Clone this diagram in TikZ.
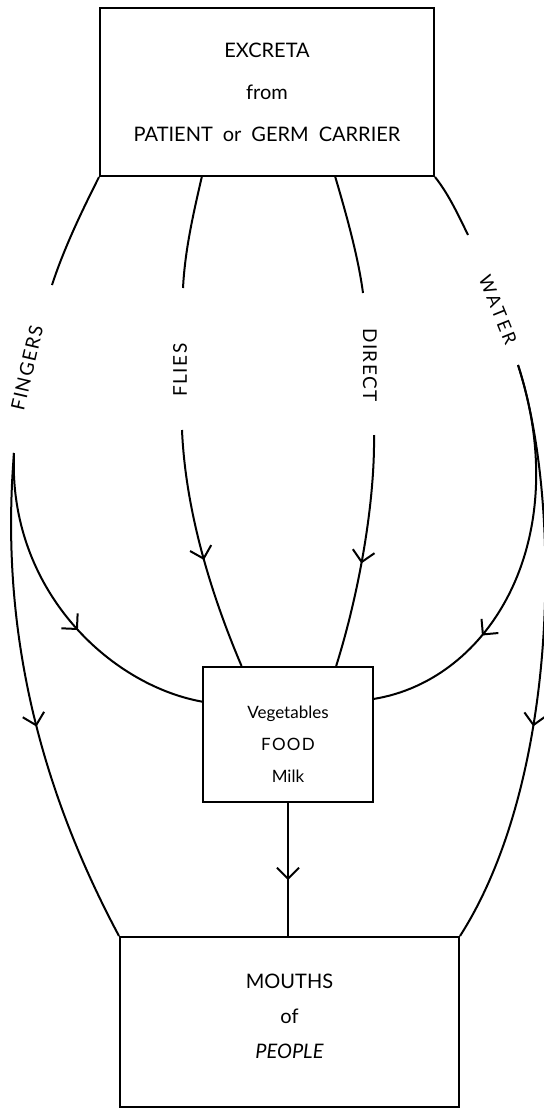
\documentclass[tikz,border=0pt]{standalone}
\usepackage{fontspec}
\setmainfont{Lato}
\newfontfamily\spacedfont[LetterSpace=8]{Lato}
\newfontfamily\widefont[LetterSpace=16]{Lato}
\usetikzlibrary{arrows.meta,decorations.markings,calc}

\begin{document}
\begin{tikzpicture}[x=0.5pt, y=-0.5pt,
    flowbox/.style={draw, line width=1pt, align=center, inner sep=0pt},
    route/.style={line width=1pt},
    routetxt/.style={font=\fontsize{9.5}{10}\spacedfont, inner sep=0pt},
    midarrow/.style={postaction={decorate}, decoration={markings,
        mark=at position #1 with {\arrow{Straight Barb[length=5.5pt,width=11pt,line width=1pt]}}}}]

        \useasboundingbox (0,0) rectangle (543,1110);

        % Boxes
        \node[flowbox, minimum width=167pt, minimum height=84pt, font=\fontsize{10}{21}\selectfont]
            (src) at (267,92) {EXCRETA\\from\\PATIENT\enspace or\enspace GERM\enspace CARRIER};
        \node[flowbox, minimum width=85pt, minimum height=67.5pt, font=\fontsize{8.5}{16}\selectfont]
            (food) at (288,734.5) {\rule{0pt}{16pt}Vegetables\\{\spacedfont FOOD}\\Milk};
        \node[flowbox, minimum width=169.5pt, minimum height=85pt, font=\fontsize{10}{17.5}\selectfont]
            (mouth) at (289.5,1022) {MOUTHS\\of\\\textit{PEOPLE}\rule[-6pt]{0pt}{6pt}};

        % Route labels
        \node[routetxt, rotate=77] (fingers) at (27,368) {FINGERS};
        \node[routetxt, rotate=90] (flies) at (180,370) {FLIES};
        \node[routetxt, rotate=-90] (direct) at (370,365) {DIRECT};
        \node[routetxt, font=\fontsize{9}{10}\widefont, rotate=-68] (water) at (498,310) {WATER};

        % Ends of the broken lines
        \coordinate (fiA) at (52,285);
        \coordinate (fiB) at (14,453);
        \coordinate (flA) at (202,176);
        \coordinate (flB) at (183,288);
        \coordinate (flC) at (182,430);
        \coordinate (drA) at (335,176);
        \coordinate (drB) at (363,293);
        \coordinate (drC) at (374,435);
        \coordinate (waA) at (468,235);
        \coordinate (waB) at (518,365);
        \coordinate (flD) at ($(food.north west)!0.23!(food.north east)$);
        \coordinate (drD) at ($(food.north west)!0.78!(food.north east)$);
        \coordinate (fiL) at ($(food.north west)!0.26!(food.south west)$);
        \coordinate (waL) at ($(food.north east)!0.24!(food.south east)$);

        % Lines leaving the excreta
        \draw[route] (src.south west) .. controls (85,205) and (65,245) .. (fiA);
        \draw[route] (flA) .. controls (193,215) and (185,250) .. (flB);
        \draw[route] (drA) .. controls (345,210) and (358,255) .. (drB);
        \draw[route] (src.south east) .. controls (447,192) and (456,210) .. (waA);

        % Lines into the food
        \draw[route, midarrow=0.54] (flC) .. controls (185,500) and (205,580) .. (flD);
        \draw[route, midarrow=0.55] (drC) .. controls (375,500) and (360,590) .. (drD);
        \draw[route, midarrow=0.57] (fiB) .. controls (8,590) and (110,685) .. (fiL);
        \draw[route, midarrow=0.69] (waB) .. controls (575,540) and (490,680) .. (waL);

        % Lines into the mouths
        \draw[route, midarrow=0.55] (fiB) .. controls (2,600) and (25,760) .. (mouth.north west);
        \draw[route, midarrow=0.62] (waB) .. controls (562,500) and (560,780) .. (mouth.north east);
        \draw[route, midarrow=0.58] (food.south) -- (food.south |- mouth.north);

      \end{tikzpicture}
\end{document}
